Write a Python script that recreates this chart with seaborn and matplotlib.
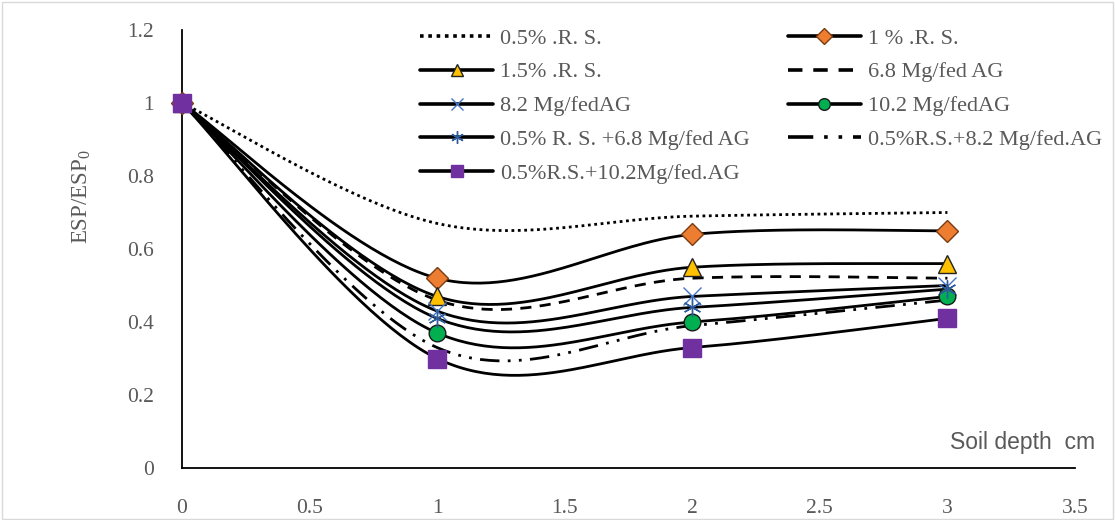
import matplotlib
matplotlib.use("Agg")
import matplotlib.pyplot as plt
from matplotlib.lines import Line2D
from matplotlib.patches import Rectangle
import seaborn as sns
import numpy as np

# soil depth and ESP/ESP0 values
depth = [0, 1, 2, 3]
rs_05 = [1.0, 0.67, 0.69, 0.70]
rs_1 = [1.0, 0.52, 0.64, 0.65]
rs_15 = [1.0, 0.47, 0.55, 0.56]
ag_68 = [1.0, 0.46, 0.52, 0.52]
ag_82 = [1.0, 0.43, 0.47, 0.50]
ag_102 = [1.0, 0.37, 0.40, 0.47]
rs_ag68 = [1.0, 0.41, 0.44, 0.49]
rs_ag82 = [1.0, 0.33, 0.39, 0.46]
rs_ag102 = [1.0, 0.30, 0.33, 0.41]

labels = ["0.5% .R. S.", "1 % .R. S.", "1.5% .R. S.", "6.8 Mg/fed AG",
          "8.2 Mg/fedAG", "10.2 Mg/fedAG", "0.5% R. S. +6.8 Mg/fed AG",
          "0.5%R.S.+8.2 Mg/fed.AG", "0.5%R.S.+10.2Mg/fed.AG"]
series = [rs_05, rs_1, rs_15, ag_68, ag_82, ag_102, rs_ag68, rs_ag82, rs_ag102]

# styles: linestyle, marker, marker face, marker edge, size
styles = [
    ((0, (1, 1.3)), None, None, None, 0),
    ("-", "D", "#ED7D31", "#7a3c10", 11),
    ("-", "^", "#FFC000", "#222222", 13),
    ((0, (4, 3)), None, None, None, 0),
    ("-", "x", "none", "#4472C4", 13),
    ("-", "o", "#00B050", "#1a1a1a", 12),
    ("-", (6, 2, 0), "none", "#2E5C9A", 13),
    ((0, (7, 3, 1, 3, 1, 3)), None, None, None, 0),
    ("-", "s", "#7030A0", "#7030A0", 13),
]


def smooth(xv, yv, n=60):
    # Excel style bezier smoothing between the points
    pts = np.column_stack([xv, yv]).astype(float)
    out = []
    for i in range(len(pts) - 1):
        p0 = pts[i - 1] if i > 0 else pts[i]
        p1 = pts[i]
        p2 = pts[i + 1]
        p3 = pts[i + 2] if i + 2 < len(pts) else pts[i + 1]
        c1 = p1 + (p2 - p0) / 6
        c2 = p2 - (p3 - p1) / 6
        t = np.linspace(0, 1, n)[:, None]
        seg = (1 - t) ** 3 * p1 + 3 * (1 - t) ** 2 * t * c1 + 3 * (1 - t) * t ** 2 * c2 + t ** 3 * p2
        out.append(seg if i == 0 else seg[1:])
    out = np.vstack(out)
    return out[:, 0], out[:, 1]


sns.set_style("white")
plt.rcParams["font.family"] = ["Liberation Serif", "DejaVu Serif"]
plt.rcParams["mathtext.fontset"] = "custom"
plt.rcParams["mathtext.rm"] = "Liberation Serif"
plt.rcParams["mathtext.it"] = "Liberation Serif:italic"

grey = "#595959"
fig = plt.figure(figsize=(11.15, 5.2), dpi=100)
ax = fig.add_axes([182 / 1115, 1 - 468 / 520, (1075 - 182) / 1115, (468 - 30) / 520])

handles = []
for vals, lab, st in zip(series, labels, styles):
    ls, mk, fc, ec, ms = st
    sx, sy = smooth(depth, vals)
    sns.lineplot(x=sx, y=sy, ax=ax, color="black", lw=2.0, linestyle=ls,
                 sort=False, estimator=None, legend=False)
    if mk is not None:
        ax.plot(depth, vals, linestyle="none", marker=mk, ms=ms, markerfacecolor=fc,
                markeredgecolor=ec, markeredgewidth=1.0, zorder=5, clip_on=False)
    handles.append(Line2D([], [], color="black", lw=2.6, linestyle=ls, marker=mk,
                          ms=ms * 0.7 if mk is not None else 0,
                          markerfacecolor=fc, markeredgecolor=ec, label=lab))

ax.set_xlim(0, 3.5)
ax.set_ylim(0, 1.2)
ax.set_xticks(np.arange(0, 3.51, 0.5))
ax.set_xticklabels(["0", "0.5", "1", "1.5", "2", "2.5", "3", "3.5"])
ax.set_yticks(np.arange(0, 1.21, 0.2))
ax.set_yticklabels(["0", "0.2", "0.4", "0.6", "0.8", "1", "1.2"])
ax.tick_params(axis="both", length=0, labelsize=15.5, labelcolor=grey)
ax.tick_params(axis="x", pad=22)
ax.tick_params(axis="y", pad=20)
for s in ["top", "right"]:
    ax.spines[s].set_visible(False)
for s in ["left", "bottom"]:
    ax.spines[s].set_color("black")
    ax.spines[s].set_linewidth(1.3)

ax.set_ylabel("ESP/ESP$_0$", fontsize=16.5, color=grey)
ax.yaxis.set_label_coords(-0.100, 0.62)
ax.set_xlabel("Soil depth  cm", fontsize=16.5, color=grey, family="Liberation Sans")
ax.xaxis.set_label_coords(0.941, 0.085)

# legend is filled row by row in the original, matplotlib fills columns
order = [0, 2, 4, 6, 8, 1, 3, 5, 7]
fig.legend(handles=[handles[i] for i in order], ncol=2, loc="upper left",
           bbox_to_anchor=(400 / 1115, 1 - 8 / 520),
           frameon=False, fontsize=16, labelcolor=grey, handlelength=3.3,
           handletextpad=0.3, columnspacing=1.7, labelspacing=0.6)

fig.add_artist(Rectangle((0.002, 0.002), 0.996, 0.994, transform=fig.transFigure,
                         fill=False, edgecolor="#d9d9d9", lw=1))

fig.savefig("out.png", dpi=100)
